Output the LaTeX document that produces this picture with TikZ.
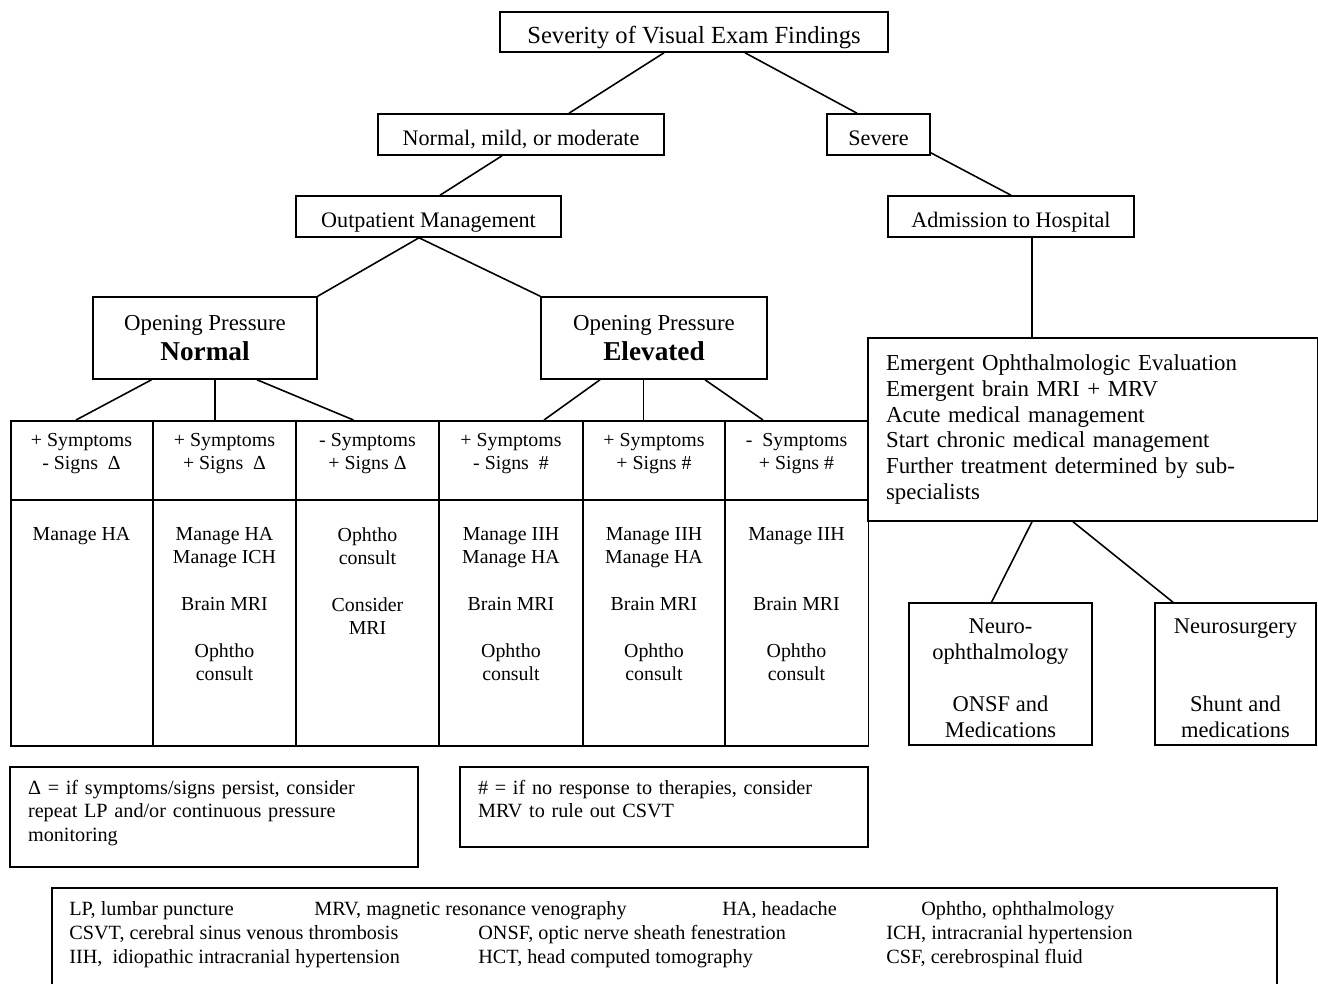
\documentclass[tikz,border=0pt]{standalone}
\usepackage{fontspec}
\setmainfont{Liberation Serif}
\usetikzlibrary{calc}

\tikzset{
  box/.style={draw, line width=0.9pt, inner sep=0pt, align=center},
  lvl/.style={box, minimum height=0.82cm, text height=15.2pt, text depth=2.7pt, font=\fontsize{12.6}{15}\selectfont},
  oppr/.style={box, minimum height=1.64cm, font=\fontsize{13}{17}\selectfont},
  spec/.style={box, minimum height=2.84cm, font=\fontsize{12.8}{14.7}\selectfont},
  cell/.style={anchor=north, align=center, inner sep=0pt, font=\fontsize{11.3}{13.3}\selectfont},
  note/.style={box, align=left, inner xsep=0.36cm, minimum width=8.16cm, text width=7.44cm, font=\fontsize{11.5}{13.3}\selectfont},
  key/.style={anchor=base west, inner sep=0pt, font=\fontsize{11.5}{13.6}\selectfont},
  link/.style={line width=0.9pt}
}

\begin{document}
\begin{tikzpicture}[x=0.02cm, y=-0.02cm]
\useasboundingbox (0,0) rectangle (1318,984);

% decision tree
\node[lvl, minimum width=7.76cm, minimum height=0.8cm, text height=16.6pt, text depth=3pt, font=\fontsize{14}{16}\selectfont] (sev) at (694,32) {Severity of Visual Exam Findings};
\node[lvl, minimum width=5.72cm] (mild) at (521,134.5) {Normal, mild, or moderate};
\node[lvl, minimum width=2.06cm] (severe) at (878.5,134.5) {Severe};
\node[lvl, minimum width=5.3cm] (outp) at (428.5,216.5) {Outpatient Management};
\node[lvl, minimum width=4.92cm] (adm) at (1011,216.5) {Admission to Hospital};

\node[oppr, minimum width=4.48cm] (opn) at (205,338) {Opening Pressure\\{\fontsize{15.5}{17}\selectfont\bfseries Normal}};
\node[oppr, minimum width=4.52cm] (ope) at (654,338) {Opening Pressure\\{\fontsize{15.5}{17}\selectfont\bfseries Elevated}};

\node[box, align=left, minimum width=9cm, minimum height=3.66cm, text width=8.28cm, inner xsep=0.36cm, font=\fontsize{13}{14.7}\selectfont] (emg) at (1093,429.5)
  {Emergent Ophthalmologic Evaluation\\Emergent brain MRI + MRV\\Acute medical management\\Start chronic medical management\\Further treatment determined by sub-\\specialists};

% table
\node[box, anchor=north west, minimum width=17.16cm, minimum height=6.5cm] (tab) at (10,420) {};
\draw[link] (10,500) -- (868,500);
\foreach \x in {153,296,439,583,725}
  \draw[link] (\x,420) -- (\x,745);

\node[cell] (h1) at (81.5,433) {+ Symptoms\\- Signs~ Δ};
\node[cell] (h2) at (224.5,433) {+ Symptoms\\+ Signs~ Δ};
\node[cell] (h3) at (367.5,433) {- Symptoms\\+ Signs Δ};
\node[cell] (h4) at (511,433) {+ Symptoms\\- Signs~ \#};
\node[cell] (h5) at (654,433) {+ Symptoms\\+ Signs \#};
\node[cell] (h6) at (796.5,433) {-~ Symptoms\\+ Signs \#};

\node[cell] (b1) at (81.5,527) {Manage HA};
\node[cell] (b2) at (224.5,527) {Manage HA\\Manage ICH\\[13.3pt]Brain MRI\\[13.3pt]Ophtho\\consult};
\node[cell] (b3) at (367.5,527) {Ophtho\\consult\\[13.3pt]Consider\\MRI};
\node[cell] (b4) at (511,527) {Manage IIH\\Manage HA\\[13.3pt]Brain MRI\\[13.3pt]Ophtho\\consult};
\node[cell] (b5) at (654,527) {Manage IIH\\Manage HA\\[13.3pt]Brain MRI\\[13.3pt]Ophtho\\consult};
\node[cell] (b6) at (796.5,527) {Manage IIH\\[26.6pt]Brain MRI\\[13.3pt]Ophtho\\consult};

% specialists
\node[spec, minimum width=3.66cm] (neu) at (1000.5,674) {\rule{0pt}{13.3pt}Neuro-\\ophthalmology\\[14.7pt]ONSF and\\Medications};
\node[spec, minimum width=3.22cm] (nsg) at (1235.5,674) {\rule{0pt}{13.3pt}Neurosurgery\\[29.4pt]Shunt and\\medications};

% notes
\node[note, minimum height=2cm] (dnote) at (214,817) {Δ = if symptoms/signs persist, consider\\repeat LP and/or continuous pressure\\monitoring\rule[-7pt]{0pt}{0pt}};
\node[note, minimum height=1.6cm] (hnote) at (664,807) {\# = if no response to therapies, consider\\MRV to rule out CSVT\rule[-9pt]{0pt}{0pt}};

% abbreviations
\draw[link] (52,984) -- (52,888) -- (1277,888) -- (1277,984);
\node[key] (k1) at (69,915) {LP, lumbar puncture};
\node[key] (k2) at (314,915) {MRV, magnetic resonance venography};
\node[key] (k3) at (722,915) {HA, headache};
\node[key] (k4) at (921,915) {Ophtho, ophthalmology};
\node[key] (k5) at (69,939) {CSVT, cerebral sinus venous thrombosis};
\node[key] (k6) at (478,939) {ONSF, optic nerve sheath fenestration};
\node[key] (k7) at (886,939) {ICH, intracranial hypertension};
\node[key] (k8) at (69,963) {IIH,~ idiopathic intracranial hypertension};
\node[key] (k9) at (478,963) {HCT, head computed tomography};
\node[key] (k10) at (886,963) {CSF, cerebrospinal fluid};

% connectors
\draw[link] ($(sev.south)+(-30,0)$) -- ($(mild.north)+(48,0)$);
\draw[link] ($(sev.south)+(51,0)$) -- ($(severe.north)+(-21.5,0)$);
\draw[link] ($(mild.south)+(-19,0)$) -- ($(outp.north)+(11.5,0)$);
\draw[link] ($(severe.south east)+(0,-3)$) -- (adm.north);
\draw[link] ($(outp.south)+(-9.5,0)$) -- (opn.north east);
\draw[link] ($(outp.south)+(-9.5,0)$) -- (ope.north west);
\coordinate (admdrop) at ($(adm.south)+(21,0)$);
\draw[link] (admdrop) -- (admdrop |- emg.north);

\coordinate (opnmid) at ($(opn.south)+(10,0)$);
\coordinate (opemid) at ($(ope.south)+(-10.5,0)$);
\draw[link] ($(opn.south)+(-53.5,0)$) -- ($(tab.north west)+(66,0)$);
\draw[link] (opnmid) -- (opnmid |- tab.north);
\draw[link] ($(opn.south)+(52,0)$) -- ($(tab.north west)+(343.5,0)$);
\draw[link] ($(ope.south)+(-54,0)$) -- ($(tab.north west)+(534,0)$);
\draw[link] (opemid) -- (opemid |- tab.north);
\draw[link] ($(ope.south)+(51,0)$) -- ($(tab.north west)+(753,0)$);

\draw[link] ($(emg.south)+(-61,0)$) -- ($(neu.north)+(-9,0)$);
\draw[link] ($(emg.south)+(-20,0)$) -- ($(nsg.north)+(-62.5,0)$);
\end{tikzpicture}
\end{document}
